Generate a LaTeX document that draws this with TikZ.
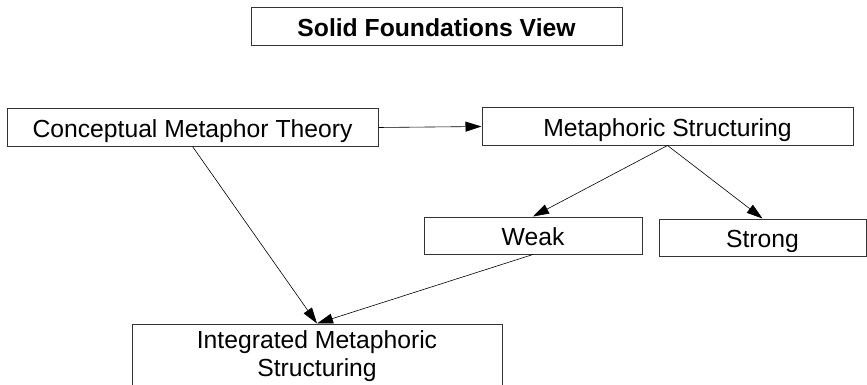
\documentclass[tikz,border=0pt]{standalone}
\usepackage{fontspec}
\setmainfont{Liberation Sans}
\usepackage{xcolor}
\usepackage{tikz}
\usetikzlibrary{positioning}
\usetikzlibrary{arrows.meta}

\begin{document}
\begin{tikzpicture}[x=1pt,y=-1pt,
  box/.style={draw=black!80,line width=1pt,inner sep=0pt,align=center,
    font=\fontsize{24.7}{28}\selectfont},
  oneline/.style={text height=20pt,text depth=0pt},
  link/.style={draw=black,line width=0.6pt,-{Triangle[length=16pt,width=10pt]}}]
\useasboundingbox (0,0) rectangle (867,385);
% boxes
\node[box,oneline,font=\fontsize{24.7}{28}\selectfont\bfseries,minimum width=371pt,minimum height=38pt] (title) at (436.5,27) {Solid Foundations View};
\node[box,oneline,minimum width=371pt,minimum height=37pt] (cmt) at (192.5,127.5) {Conceptual Metaphor Theory};
\node[box,oneline,minimum width=371pt,minimum height=37pt] (ms) at (667.5,126.5) {Metaphoric Structuring};
\node[box,oneline,minimum width=218pt,minimum height=37pt] (weak) at (533,235.5) {Weak};
\node[box,oneline,minimum width=207pt,minimum height=37pt] (strong) at (762.5,237.5) {Strong};
\node[box,minimum width=370pt,minimum height=64pt] (ims) at (317,356) {Integrated Metaphoric\\Structuring};
% arrows
\draw[link] (cmt.east) -- (ms.west);
\draw[link] (ms.south) -- (weak.north);
\draw[link] (ms.south) -- (strong.north);
\draw[link] (cmt.south) -- (ims.north);
\draw[link] (weak.south) -- (ims.north);
\end{tikzpicture}
\end{document}
